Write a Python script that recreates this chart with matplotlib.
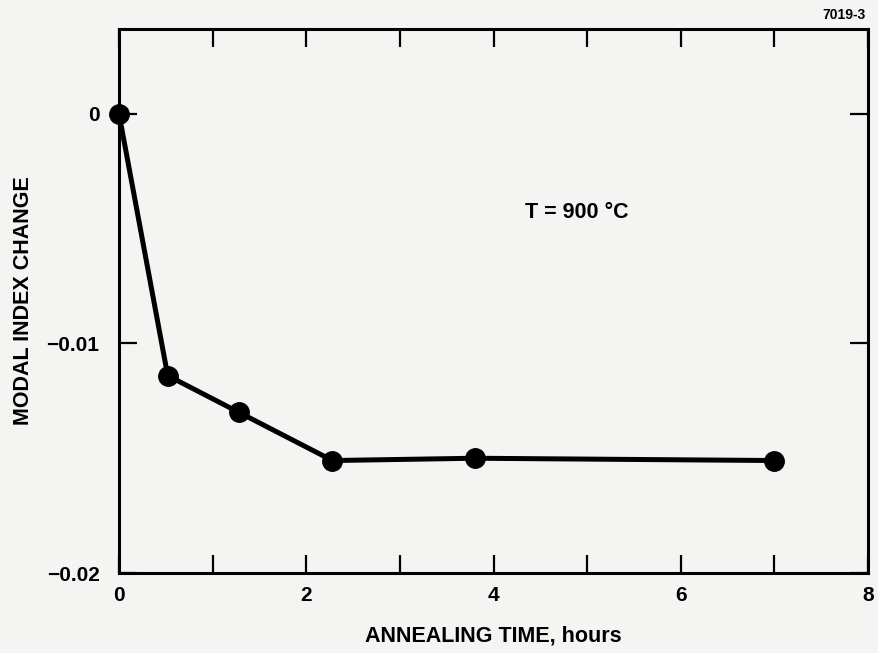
import matplotlib
matplotlib.use("Agg")
import matplotlib.pyplot as plt
import numpy as np

# data
time_hours = [0.0, 0.52, 1.28, 2.28, 3.8, 7.0]
index_change = [0.0, -0.0114, -0.0130, -0.0151, -0.0150, -0.0151]

x_ticks = [0, 1, 2, 3, 4, 5, 6, 7, 8]
x_labels = ["0", "", "2", "", "4", "", "6", "", "8"]
y_ticks = [0.0, -0.01, -0.02]
y_labels = ["0", "\u22120.01", "\u22120.02"]

plt.rcParams["font.family"] = ["Liberation Sans", "DejaVu Sans"]
plt.rcParams["font.weight"] = "bold"

bg = "#f4f4f2"
fig = plt.figure(figsize=(8.79, 6.53), dpi=100, facecolor=bg)
ax = fig.add_axes([0.1354, 0.1225, 0.8521, 0.8331], facecolor=bg)

ax.plot(time_hours, index_change, color="black", lw=3.6,
        marker="o", markersize=14, clip_on=False, zorder=5)

ax.set_xlim(0, 8)
ax.set_ylim(-0.02, 0.0037)

ax.set_xticks(x_ticks)
ax.set_xticklabels(x_labels)
ax.set_yticks(y_ticks)
ax.set_yticklabels(y_labels)

ax.tick_params(axis="both", direction="in", length=13, width=1.6,
               top=True, right=True, labelsize=15, color="black")
ax.tick_params(axis="y", pad=14)
ax.tick_params(axis="x", pad=9)

for sp in ax.spines.values():
    sp.set_linewidth(2.2)

ax.set_xlabel("ANNEALING TIME, hours", fontsize=15.5, fontweight="bold", labelpad=15)
ax.set_ylabel("MODAL INDEX CHANGE", fontsize=15.5, fontweight="bold", labelpad=9)

ax.text(4.34, -0.0043, "T = 900 \u00b0C", fontsize=15.5, fontweight="bold",
        va="center", ha="left")
fig.text(0.985, 0.977, "7019-3", fontsize=10, fontweight="bold",
         ha="right", va="center")

fig.savefig("out.png", dpi=100, facecolor=bg)
